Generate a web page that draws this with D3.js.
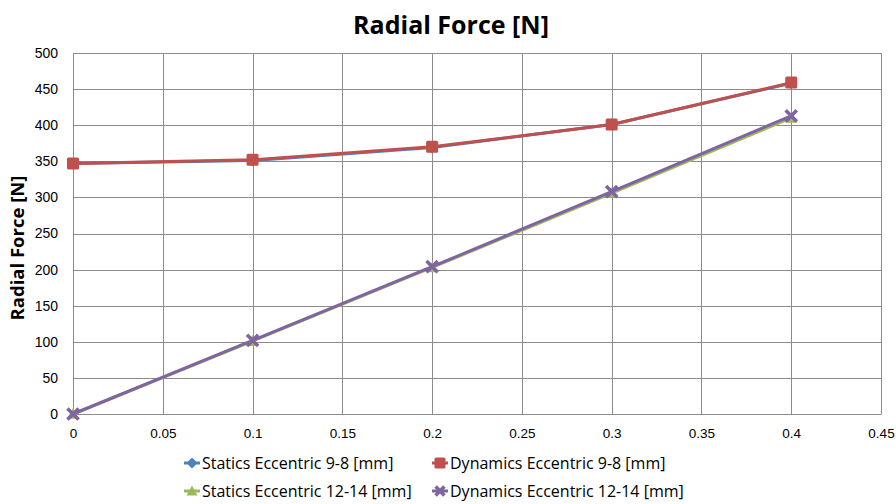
<!DOCTYPE html>
<html>
<head>
<meta charset="utf-8">
<script src="https://cdn.jsdelivr.net/npm/d3@7"></script>
<style>
  html, body { margin: 0; padding: 0; background: #fff; }
  svg { display: block; font-family: "Open Sans", Lato, sans-serif; }
</style>
</head>
<body>
<svg id="chart" width="896" height="504"></svg>
<script>
// Eccentricity values (x) and radial force per series
const eccentricity = [0, 0.1, 0.2, 0.3, 0.4];
const staticsEcc98 = [347, 351, 369, 401, 458];
const dynamicsEcc98 = [347, 352, 370, 401, 459];
const staticsEcc1214 = [0, 101, 203, 306, 410];
const dynamicsEcc1214 = [0, 102, 204, 308, 413];

const xTicks = [0, 0.05, 0.1, 0.15, 0.2, 0.25, 0.3, 0.35, 0.4, 0.45];
const yTicks = [0, 50, 100, 150, 200, 250, 300, 350, 400, 450, 500];

const seriesNames = [
  "Statics Eccentric 9-8 [mm]",
  "Dynamics Eccentric 9-8 [mm]",
  "Statics Eccentric 12-14 [mm]",
  "Dynamics Eccentric 12-14 [mm]"
];
const seriesColors = ["#4F81BD", "#C0504D", "#9BBB59", "#8064A2"];
const seriesShapes = ["diamond", "square", "triangle", "cross"];
const seriesValues = [staticsEcc98, dynamicsEcc98, staticsEcc1214, dynamicsEcc1214];

const series = seriesNames.map((name, i) => ({
  name, color: seriesColors[i], shape: seriesShapes[i],
  points: eccentricity.map((x, j) => ({ x, y: seriesValues[i][j] }))
}));

const svg = d3.select("#chart");
const plot = { left: 73, right: 881, top: 53, bottom: 414 };

const x = d3.scaleLinear().domain([0, 0.45]).range([plot.left, plot.right]);
const y = d3.scaleLinear().domain([0, 500]).range([plot.bottom, plot.top]);

// Gridlines
const grid = svg.append("g");
grid.selectAll("line.h").data(yTicks).join("line")
  .attr("x1", plot.left).attr("x2", plot.right)
  .attr("y1", d => Math.round(y(d)) + 0.5).attr("y2", d => Math.round(y(d)) + 0.5)
  .attr("stroke", "#8c8c8c").attr("stroke-width", 1);
grid.selectAll("line.v").data(xTicks).join("line")
  .attr("y1", plot.top).attr("y2", plot.bottom)
  .attr("x1", d => Math.round(x(d)) + 0.5).attr("x2", d => Math.round(x(d)) + 0.5)
  .attr("stroke", "#8c8c8c").attr("stroke-width", 1);

// Axes
const yAxis = d3.axisLeft(y).tickValues(yTicks).tickSize(0).tickPadding(15);
const xAxis = d3.axisBottom(x).tickValues(xTicks).tickSize(0).tickPadding(14)
  .tickFormat(d => String(+d.toFixed(2)));

const gy = svg.append("g").attr("transform", `translate(${plot.left},0)`).call(yAxis);
gy.select(".domain").attr("stroke", "#8c8c8c");
gy.selectAll("text").attr("font-size", 14).attr("fill", "#000");

const gx = svg.append("g").attr("transform", `translate(0,${plot.bottom})`).call(xAxis);
gx.select(".domain").attr("stroke", "#8c8c8c");
gx.selectAll("text").attr("font-size", 13.5).attr("fill", "#000");

// Lines
const line = d3.line().x(d => x(d.x)).y(d => y(d.y));
svg.append("g").selectAll("path").data(series).join("path")
  .attr("d", d => line(d.points))
  .attr("fill", "none")
  .attr("stroke", d => d.color)
  .attr("stroke-width", 3)
  .attr("stroke-linejoin", "round");

// Marker drawing
function marker(g, shape, color, size) {
  const s = size / 2;
  if (shape === "diamond") {
    g.append("path").attr("d", `M0,${-s}L${s},0L0,${s}L${-s},0Z`).attr("fill", color);
  } else if (shape === "square") {
    g.append("rect").attr("x", -s).attr("y", -s).attr("width", size).attr("height", size)
      .attr("rx", 1.5).attr("fill", color);
  } else if (shape === "triangle") {
    g.append("path").attr("d", `M0,${-s}L${s},${s * 0.8}L${-s},${s * 0.8}Z`).attr("fill", color);
  } else if (shape === "cross") {
    g.append("path").attr("d", `M${-s * 0.8},${-s * 0.8}L${s * 0.8},${s * 0.8}M${s * 0.8},${-s * 0.8}L${-s * 0.8},${s * 0.8}`)
      .attr("stroke", color).attr("stroke-width", 3.5).attr("fill", "none");
  }
}

series.forEach(sr => {
  const g = svg.append("g");
  sr.points.forEach(p => {
    const m = g.append("g").attr("transform", `translate(${x(p.x)},${y(p.y)})`);
    marker(m, sr.shape, sr.color, sr.shape === "cross" ? 14 : 12);
  });
});

// Title
svg.append("text").attr("x", 451).attr("y", 34).attr("text-anchor", "middle")
  .attr("font-size", 25).attr("font-weight", "bold").text("Radial Force [N]");

// Y axis title
svg.append("text").attr("transform", "translate(24,248) rotate(-90)")
  .attr("text-anchor", "middle").attr("font-size", 18.5).attr("font-weight", "bold")
  .text("Radial Force [N]");

// Legend
const legendPos = [[192, 463], [440, 463], [192, 491], [440, 491]];
series.forEach((sr, i) => {
  const [lx, ly] = legendPos[i];
  const g = svg.append("g").attr("transform", `translate(${lx},${ly})`);
  g.append("line").attr("x1", -8).attr("x2", 8).attr("stroke", sr.color).attr("stroke-width", 3);
  marker(g, sr.shape, sr.color, 11);
  g.append("text").attr("x", 10).attr("y", 6).attr("font-size", 16).text(sr.name);
});
</script>
</body>
</html>
